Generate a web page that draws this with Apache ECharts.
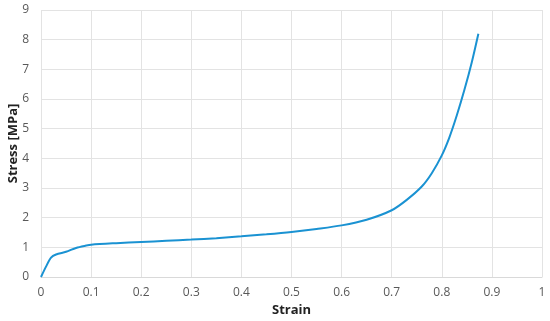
<!DOCTYPE html>
<html><head><meta charset="utf-8">
<script src="https://cdn.jsdelivr.net/npm/echarts@6/dist/echarts.min.js"></script>
<style>html,body{margin:0;padding:0;background:#fff}#c{width:550px;height:321px}</style>
</head><body><div id="c"></div>
<script>
const strain = [0,0.01,0.02,0.03,0.05,0.07,0.09,0.1,0.15,0.2,0.25,0.3,0.35,0.4,0.45,0.5,0.55,0.6,0.65,0.7,0.73,0.76,0.78,0.8,0.815,0.83,0.845,0.86,0.873];
const stress = [0,0.35,0.65,0.76,0.85,0.98,1.06,1.09,1.14,1.18,1.22,1.26,1.31,1.37,1.44,1.52,1.62,1.74,1.93,2.25,2.6,3.05,3.5,4.1,4.7,5.45,6.3,7.25,8.2];
const xName = 'Strain', yName = 'Stress [MPa]';
const chart = echarts.init(document.getElementById('c'));
const lab = {color:'#595959', fontSize:12, fontFamily:'Open Sans, Liberation Sans, sans-serif'};
const grid = {lineStyle:{color:'#e3e3e3', width:1}};
const nameStyle = {fontSize:13, fontWeight:'bold', color:'#222', fontFamily:'Open Sans, sans-serif'};
chart.setOption({
  animation:false,
  grid:{left:41, right:8, top:10, bottom:44, containLabel:false, outerBoundsMode:'none'},
  xAxis:{type:'value', min:0, max:1, interval:0.1, name:xName, nameLocation:'middle', nameGap:27, nameMoveOverlap:false,
    nameTextStyle:nameStyle,
    axisLine:{show:true, lineStyle:{color:'#d9d9d9'}}, axisTick:{show:false},
    axisLabel:Object.assign({margin:10, formatter:v=>String(+v.toFixed(1))}, lab), splitLine:grid},
  yAxis:{type:'value', min:0, max:9, interval:1, name:yName, nameLocation:'middle', nameGap:21, nameMoveOverlap:false,
    nameTextStyle:nameStyle,
    axisLine:{show:false}, axisTick:{show:false}, axisLabel:Object.assign({margin:12}, lab), splitLine:grid},
  series:[{type:'line', data:strain.map((x,i)=>[x,stress[i]]), smooth:0.3, showSymbol:false,
    lineStyle:{color:'#1a92d2', width:2}}]
});
</script></body></html>
